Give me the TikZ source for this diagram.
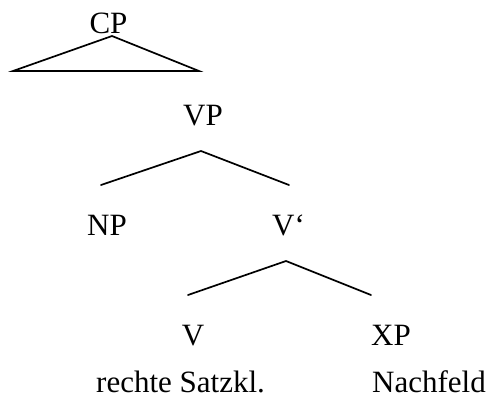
\documentclass[tikz,border=0pt]{standalone}
\usepackage{fontspec}
\setmainfont{Liberation Serif}
\begin{document}
\begin{tikzpicture}[x=1pt,y=-1pt,
  lbl/.style={inner sep=0pt,anchor=base,font=\fontsize{31}{36}\selectfont},
  branch/.style={line width=1.7pt,line cap=round}]
\useasboundingbox (0,0) rectangle (490,405);
% labels
\node[lbl] (cp) at (108.5,33) {CP};
\node[lbl] (vp) at (203,125) {VP};
\node[lbl] (np) at (107,235) {NP};
\node[lbl,anchor=base west] (vbar) at (272,235) {V‘};
\node[lbl] (v) at (193,345) {V};
\node[lbl] (xp) at (391,345) {XP};
\node[lbl,anchor=base west] (rs) at (96,392) {rechte Satzkl.};
\node[lbl,anchor=base west] (nf) at (372,392) {Nachfeld};
% branch points
\coordinate (cpT) at (112,36);
\coordinate (cpL) at (13,71);
\coordinate (cpR) at (199,71);
\coordinate (vpT) at (201,151);
\coordinate (vpL) at (101,185);
\coordinate (vpR) at (289,185);
\coordinate (vbT) at (286,261);
\coordinate (vbL) at (188,295);
\coordinate (vbR) at (371,295);
% lines
\draw[branch] (cpL) -- (cpT) -- (cpR) -- cycle;
\draw[branch] (vpL) -- (vpT) -- (vpR);
\draw[branch] (vbL) -- (vbT) -- (vbR);
\end{tikzpicture}
\end{document}
